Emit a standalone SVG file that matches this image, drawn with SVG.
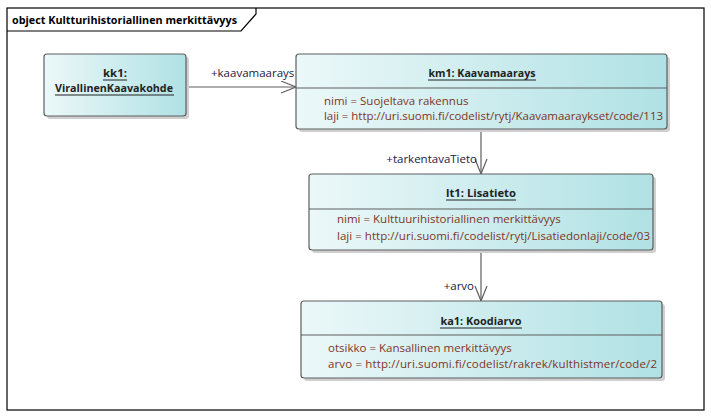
<svg xmlns="http://www.w3.org/2000/svg" width="711" height="418" viewBox="0 0 711 418">
<style>
text{font-family:"Open Sans","Liberation Sans",Arial,sans-serif;font-size:11.5px}
.nm{font-weight:bold;fill:#222;text-anchor:middle;font-size:11px}
.at{fill:#7e3526}
.lbl{fill:#232040}
.box{fill:url(#g);stroke:#5e5e5e;stroke-width:1.2}
.sh{fill:#cfcfcf}
.ln{stroke:#5e5e5e;stroke-width:1.2;fill:none}
.ul{stroke:#222;stroke-width:1}
</style>
<defs>
<linearGradient id="g" x1="0" y1="0" x2="1" y2="0">
<stop offset="0" stop-color="#ecf8f9"/>
<stop offset="1" stop-color="#b0e1e4"/>
</linearGradient>
</defs>
<rect width="711" height="418" fill="#fff"/>
<g id="frame">
<rect x="7" y="8" width="697" height="402" fill="none" stroke="#000" stroke-width="1.2"/>
<path d="M256,8 V14 L241,31 H7" fill="none" stroke="#000" stroke-width="1.2"/>
<text x="12" y="24" style="font-weight:bold;font-size:11px" fill="#000" textLength="225" lengthAdjust="spacingAndGlyphs">object Kultturihistoriallinen merkittävyys</text>
</g>
<g id="connectors">
<path class="ln" d="M186,87 H296"/>
<path class="ln" d="M281,81 L296,87 L281,93"/>
<path class="ln" d="M481,129 V174"/>
<path class="ln" d="M475,159 L481,174 L487,159"/>
<path class="ln" d="M481,250 V301"/>
<path class="ln" d="M475,286 L481,301 L487,286"/>
<rect x="209" y="66" width="90" height="15" fill="#fff"/>
<text class="lbl" x="211" y="77">+kaavamaarays</text>
<text class="lbl" x="477" y="163" text-anchor="end">+tarkentavaTieto</text>
<text class="lbl" x="474" y="290" text-anchor="end">+arvo</text>
</g>
<g id="kk1">
<rect class="sh" x="47" y="57" width="142" height="62" rx="3"/>
<rect class="box" x="44" y="54" width="142" height="62" rx="3"/>
<text class="nm" x="115" y="77" textLength="24" lengthAdjust="spacingAndGlyphs">kk1:</text>
<line class="ul" x1="103" y1="80" x2="127" y2="80"/>
<text class="nm" x="114" y="92" textLength="118" lengthAdjust="spacingAndGlyphs">VirallinenKaavakohde</text>
<line class="ul" x1="55" y1="95" x2="174" y2="95"/>
</g>
<g id="km1">
<rect class="sh" x="299" y="57" width="371" height="75" rx="3"/>
<rect class="box" x="296" y="54" width="371" height="75" rx="3"/>
<text class="nm" x="482" y="77" textLength="107" lengthAdjust="spacingAndGlyphs">km1: Kaavamaarays</text>
<line class="ul" x1="428" y1="80" x2="536" y2="80"/>
<line class="ln" x1="296" y1="88" x2="667" y2="88"/>
<text class="at" x="324" y="105">nimi = Suojeltava rakennus</text>
<text class="at" x="324" y="120" textLength="339">laji = http://uri.suomi.fi/codelist/rytj/Kaavamaaraykset/code/113</text>
</g>
<g id="lt1">
<rect class="sh" x="312" y="177" width="344" height="76" rx="3"/>
<rect class="box" x="309" y="174" width="344" height="76" rx="3"/>
<text class="nm" x="481" y="197" textLength="70" lengthAdjust="spacingAndGlyphs">lt1: Lisatieto</text>
<line class="ul" x1="446" y1="200" x2="516" y2="200"/>
<line class="ln" x1="309" y1="209" x2="653" y2="209"/>
<text class="at" x="337" y="223">nimi = Kulttuurihistoriallinen merkittävyys</text>
<text class="at" x="337" y="240" textLength="313">laji = http://uri.suomi.fi/codelist/rytj/Lisatiedonlaji/code/03</text>
</g>
<g id="ka1">
<rect class="sh" x="304" y="304" width="361" height="77" rx="3"/>
<rect class="box" x="301" y="301" width="361" height="77" rx="3"/>
<text class="nm" x="481" y="325" textLength="81" lengthAdjust="spacingAndGlyphs">ka1: Koodiarvo</text>
<line class="ul" x1="440" y1="328" x2="522" y2="328"/>
<line class="ln" x1="301" y1="335" x2="662" y2="335"/>
<text class="at" x="328" y="352">otsikko = Kansallinen merkittävyys</text>
<text class="at" x="328" y="368" textLength="329">arvo = http://uri.suomi.fi/codelist/rakrek/kulthistmer/code/2</text>
</g>
</svg>
